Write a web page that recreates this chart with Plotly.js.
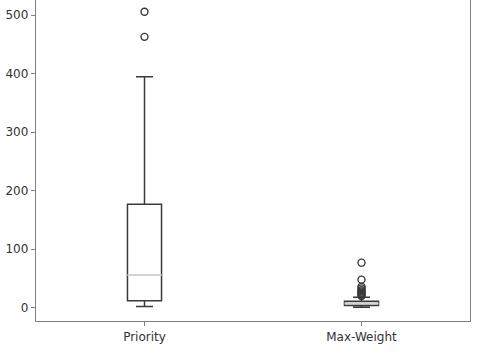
<!DOCTYPE html>
<html>
<head>
<meta charset="utf-8">
<script src="https://cdn.plot.ly/plotly-3.0.1.min.js"></script>
<style>
  html, body { margin: 0; padding: 0; background: #fff; }
  #chart { width: 479px; height: 355px; }
</style>
</head>
<body>
<div id="chart"></div>
<script>
// box stats
var categories = ["Priority", "Max-Weight"];
var positions = [1, 2];
var lowerFence = [2, 1];
var q1 = [12, 4];
var medians = [56, 7];
var q3 = [177, 11];
var upperFence = [395, 18];
var outliers = [
  [506, 463],
  [77, 48, 36, 33, 30, 28, 26, 24, 22, 20]
];

var boxWidth = 0.157;
var dark = "#3a3a3a";

var data = [];

for (var i = 0; i < categories.length; i++) {
  data.push({
    type: "box",
    x: [positions[i]],
    q1: [q1[i]],
    median: [medians[i]],
    q3: [q3[i]],
    lowerfence: [lowerFence[i]],
    upperfence: [upperFence[i]],
    width: boxWidth,
    whiskerwidth: 0.5,
    boxpoints: false,
    fillcolor: "rgba(255,255,255,0)",
    line: { color: dark, width: 1.5 },
    hoverinfo: "skip",
    showlegend: false,
  });
}

// median lines are light grey like matplotlib's
for (var i = 0; i < categories.length; i++) {
  data.push({
    type: "scatter",
    mode: "lines",
    x: [positions[i] - boxWidth / 2, positions[i] + boxWidth / 2],
    y: [medians[i], medians[i]],
    line: { color: "#d4d4d4", width: 2 },
    hoverinfo: "skip",
    showlegend: false,
  });
}

// fliers
for (var i = 0; i < categories.length; i++) {
  data.push({
    type: "scatter",
    mode: "markers",
    x: outliers[i].map(function () { return positions[i]; }),
    y: outliers[i],
    marker: {
      symbol: "circle-open",
      size: 7,
      color: dark,
      line: { width: 1.4, color: dark },
    },
    hoverinfo: "skip",
    showlegend: false,
  });
}

var layout = {
  width: 479,
  height: 355,
  margin: { l: 36, r: 9, t: 0, b: 34 },
  paper_bgcolor: "#fff",
  plot_bgcolor: "#fff",
  font: { family: "DejaVu Sans", size: 12, color: "#333" },
  xaxis: {
    range: [0.5, 2.5],
    tickvals: positions,
    ticktext: categories,
    showgrid: false,
    zeroline: false,
    showline: true,
    linecolor: "#808080",
    linewidth: 1.3,
    ticks: "outside",
    ticklen: 4,
    tickcolor: "#808080",
  },
  yaxis: {
    range: [-22.7, 526],
    tickvals: [0, 100, 200, 300, 400, 500],
    showgrid: false,
    zeroline: false,
    showline: true,
    mirror: true,
    linecolor: "#808080",
    linewidth: 1.3,
    ticks: "outside",
    ticklen: 4,
    tickcolor: "#808080",
  },
};

Plotly.newPlot("chart", data, layout, { displayModeBar: false, staticPlot: true });
</script>
</body>
</html>
